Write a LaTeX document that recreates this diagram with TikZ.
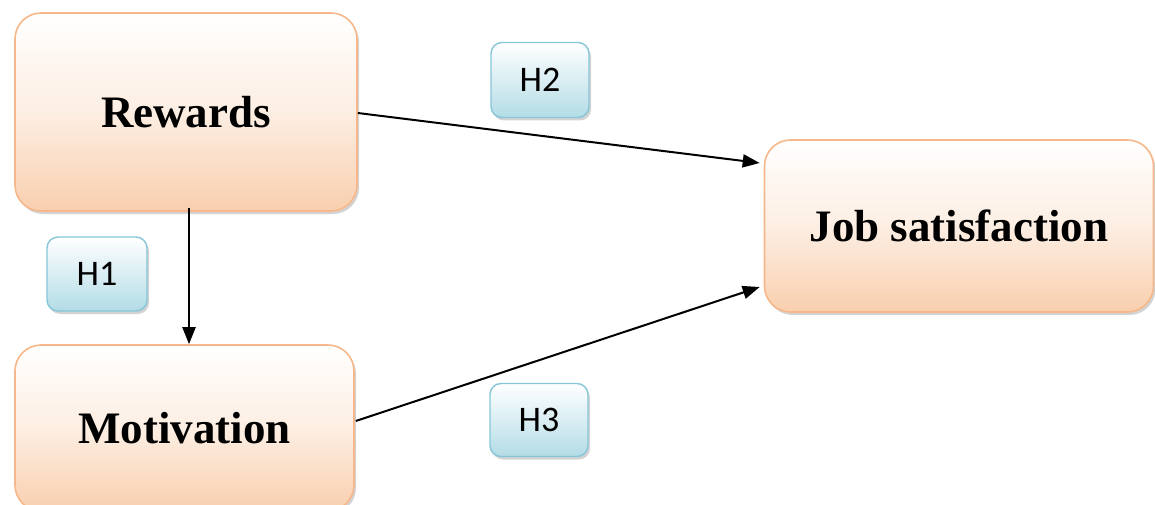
\documentclass[tikz,border=0pt]{standalone}
\usepackage{fontspec}
\setmainfont{Liberation Serif}
\newfontfamily\calibrifont{Carlito}
\usetikzlibrary{shadows,arrows.meta,calc}
\definecolor{peach}{HTML}{F9CFAE}
\definecolor{peachborder}{HTML}{F6B88A}
\definecolor{lblue}{HTML}{B3DCE6}
\definecolor{lblueborder}{HTML}{86C6D8}
\tikzset{
  bigbox/.style={rectangle, rounded corners=26pt, draw=peachborder, line width=1.6pt,
    top color=white, bottom color=peach, middle color=peach!35,
    drop shadow={shadow xshift=2pt, shadow yshift=-3pt, opacity=0.35, fill=gray},
    font=\fontsize{45}{49}\selectfont\bfseries, inner sep=0pt},
  hbox/.style={rectangle, rounded corners=11pt, draw=lblueborder, line width=1.4pt,
    top color=white, bottom color=lblue,
    drop shadow={shadow xshift=2pt, shadow yshift=-3pt, opacity=0.35, fill=gray},
    font=\calibrifont\fontsize{36}{40}\selectfont, inner sep=0pt},
  conn/.style={line width=2pt, -{Triangle[length=17pt,width=13pt]}}
}
\begin{document}
\begin{tikzpicture}[x=1pt,y=-1pt]
\useasboundingbox (0,0) rectangle (1155,505);
\node[bigbox, minimum width=342pt, minimum height=198pt] (rew) at (186,112) {Rewards};
\node[bigbox, minimum width=389pt, minimum height=172pt] (job) at (959,226) {Job satisfaction};
\node[bigbox, minimum width=339pt, minimum height=166pt] (mot) at (184.5,428) {Motivation};
\node[hbox, minimum width=100pt, minimum height=74pt] (h1) at (97,274) {H1};
\node[hbox, minimum width=98pt, minimum height=75pt] (h2) at (540,80) {H2};
\node[hbox, minimum width=98pt, minimum height=73pt] (h3) at (539,420) {H3};
\draw[conn] ($(rew.east)+(0,1)$) -- ($(job.west)+(-4,-63)$);
\draw[conn] ($(mot.east)+(1,-7)$) -- ($(job.west)+(-4,61)$);
\draw[conn] ($(rew.south)+(3,-4)$) -- ($(rew.south |- mot.north)+(3,0)$);
\end{tikzpicture}
\end{document}
